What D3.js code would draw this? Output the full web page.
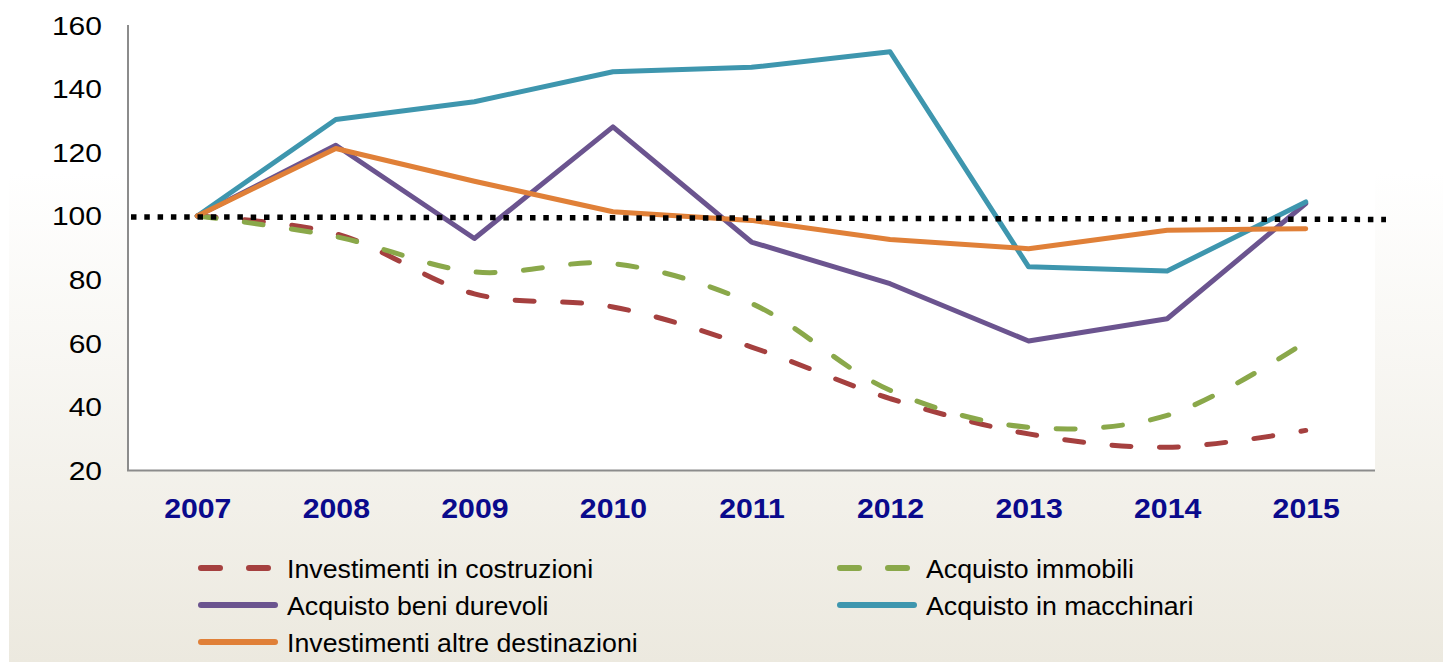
<!DOCTYPE html>
<html>
<head>
<meta charset="utf-8">
<script src="https://cdn.jsdelivr.net/npm/d3@7"></script>
<style>
  html, body { margin: 0; padding: 0; background: #ffffff; }
  svg { display: block; }
  text { font-family: "Liberation Sans", Arial, sans-serif; }
</style>
</head>
<body>
<svg id="chart" width="1443" height="662"></svg>
<script>
// ---- data ----
const years = ["2007", "2008", "2009", "2010", "2011", "2012", "2013", "2014", "2015"];
const yTicks = [20, 40, 60, 80, 100, 120, 140, 160];
const costruzioni = [100, 94.4, 75.5, 71.4, 58.8, 42.6, 31.5, 27.3, 32.6];
const immobili    = [100, 93.5, 82.4, 85.0, 72.5, 45.2, 33.6, 37.3, 60.4];
const durevoli    = [100, 122.2, 92.9, 128.0, 91.8, 78.7, 60.7, 67.7, 103.9];
const macchinari  = [100, 130.3, 135.9, 145.3, 146.7, 151.6, 84.0, 82.7, 104.4];
const altre       = [100, 121.2, 110.9, 101.3, 98.6, 92.6, 89.7, 95.5, 96.0];
const seriesNames = ["Investimenti in costruzioni", "Acquisto immobili", "Acquisto beni durevoli",
                     "Acquisto in macchinari", "Investimenti altre destinazioni"];
const refLineValues = [99.7, 98.9]; // dotted reference line, start / end

// ---- styles ----
const series = [
  { name: seriesNames[0], values: costruzioni, color: "#A5403F", dashed: true },
  { name: seriesNames[1], values: immobili,    color: "#8AA84A", dashed: true },
  { name: seriesNames[2], values: durevoli,    color: "#6B548F", dashed: false },
  { name: seriesNames[3], values: macchinari,  color: "#3E96AE", dashed: false },
  { name: seriesNames[4], values: altre,       color: "#E08038", dashed: false }
];

const svg = d3.select("#chart");
const W = 1443, H = 662;
const plot = { left: 128, right: 1375, top: 25, bottom: 470.5 };

// background gradient
const defs = svg.append("defs");
const grad = defs.append("linearGradient").attr("id", "bg").attr("x1", 0).attr("y1", 0).attr("x2", 0).attr("y2", 1);
grad.append("stop").attr("offset", "0%").attr("stop-color", "#ffffff");
grad.append("stop").attr("offset", "26%").attr("stop-color", "#ffffff");
grad.append("stop").attr("offset", "100%").attr("stop-color", "#ECE9DF");
svg.append("rect").attr("x", 9).attr("y", 0).attr("width", W - 9).attr("height", H).attr("fill", "url(#bg)");
svg.append("rect").attr("x", plot.left).attr("y", 0).attr("width", plot.right - plot.left)
   .attr("height", plot.bottom).attr("fill", "#ffffff");

// scales
const x = d3.scalePoint().domain(years).range([plot.left, plot.right]).padding(0.5);
const y = d3.scaleLinear().domain([20, 160]).range([plot.bottom, plot.top]);

// y axis
const yAxis = svg.append("g").attr("transform", `translate(${plot.left},0)`)
  .call(d3.axisLeft(y).tickValues(yTicks).tickSize(0).tickFormat(d3.format("d")));
yAxis.select(".domain").remove();
yAxis.selectAll("text")
  .attr("x", null).attr("dy", "0.36em")
  .attr("transform", "translate(-26,0) scale(1.2,1)")
  .attr("font-size", 25).attr("font-family", "Liberation Sans, Arial, sans-serif")
  .attr("fill", "#000");

// x axis
const xAxis = svg.append("g").attr("transform", `translate(0,${plot.bottom})`)
  .call(d3.axisBottom(x).tickSize(0));
xAxis.select(".domain").remove();
xAxis.selectAll("text")
  .attr("y", null).attr("dy", null)
  .attr("transform", "translate(0,47) scale(1.08,1)")
  .attr("font-size", 28).attr("font-weight", "bold")
  .attr("font-family", "Liberation Sans, Arial, sans-serif")
  .attr("fill", "#0A0A8C");

// axis lines
svg.append("line").attr("x1", plot.left).attr("x2", plot.left).attr("y1", plot.top).attr("y2", plot.bottom)
   .attr("stroke", "#8C8C8C").attr("stroke-width", 2);
svg.append("line").attr("x1", plot.left - 1).attr("x2", plot.right).attr("y1", plot.bottom).attr("y2", plot.bottom)
   .attr("stroke", "#8C8C8C").attr("stroke-width", 2);

// lines
series.forEach(s => {
  const line = d3.line()
    .x((d, i) => x(years[i]))
    .y(d => y(d))
    .curve(s.dashed ? d3.curveCatmullRom.alpha(0.5) : d3.curveLinear);
  svg.append("path").datum(s.values)
    .attr("d", line)
    .attr("fill", "none")
    .attr("stroke", s.color)
    .attr("stroke-width", 5)
    .attr("stroke-linejoin", "round")
    .attr("stroke-linecap", "round")
    .attr("stroke-dasharray", s.dashed ? "19,28.5" : null);
});

// dotted reference line
svg.append("line")
  .attr("x1", plot.left + 3).attr("x2", plot.right + 11)
  .attr("y1", y(refLineValues[0])).attr("y2", y(refLineValues[1]))
  .attr("stroke", "#000").attr("stroke-width", 5.5)
  .attr("stroke-dasharray", "5.5,7.8");

// legend
const legendPos = [
  { x: 198, y: 568 }, { x: 837, y: 568 },
  { x: 198, y: 605 }, { x: 837, y: 605 },
  { x: 198, y: 642 }
];
series.forEach((s, i) => {
  const p = legendPos[i];
  const g = svg.append("g").attr("transform", `translate(${p.x},${p.y})`);
  g.append("line").attr("x1", 3).attr("x2", 77).attr("y1", 0).attr("y2", 0)
    .attr("stroke", s.color).attr("stroke-width", 6).attr("stroke-linecap", "round")
    .attr("stroke-dasharray", s.dashed ? "19,29" : null);
  g.append("text").text(s.name)
    .attr("transform", "translate(89,10) scale(1.07,1)")
    .attr("font-size", 25).attr("fill", "#000");
});
</script>
</body>
</html>
